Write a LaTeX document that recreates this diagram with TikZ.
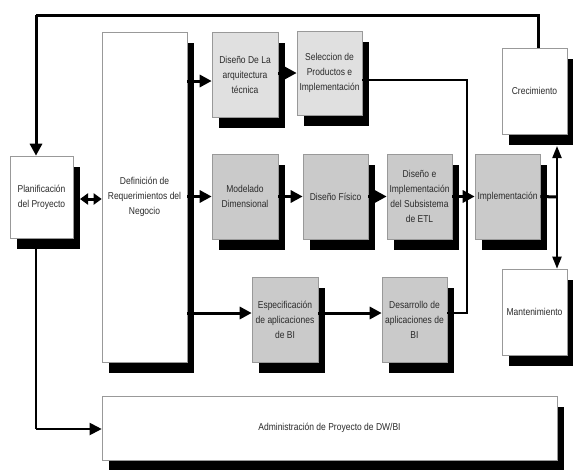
\documentclass[tikz,border=0pt]{standalone}
\usepackage{fontspec}
\setmainfont[FakeStretch=0.85]{Liberation Sans}
\usetikzlibrary{arrows.meta,calc,backgrounds}
\definecolor{lightbox}{HTML}{E0E0E0}
\definecolor{darkbox}{HTML}{CACACA}
\definecolor{txt}{HTML}{2A2A2A}
\begin{document}
\begin{tikzpicture}[x=1pt,y=-1pt,
  box/.style={draw=gray!80, line width=0.6pt, fill=white, align=center, inner sep=1pt,
    text=txt, font=\fontsize{10}{15}\selectfont},
  lbox/.style={box, fill=lightbox},
  dbox/.style={box, fill=darkbox},
  conn/.style={line width=3pt, -{Triangle[length=12pt,width=12pt]}},
  thinconn/.style={line width=2pt},
  loopline/.style={line width=3pt}
]
\useasboundingbox (0,0) rectangle (573,469);

% nodes
\node[box, minimum width=63pt, minimum height=82pt] (plan) at (41.5,197) {Planificación\\del Proyecto};
\node[box, minimum width=85pt, minimum height=330pt] (defn) at (144.5,197) {Definición de\\Requerimientos del\\Negocio};
\node[lbox, minimum width=66pt, minimum height=85pt] (arq) at (245,74.5) {Diseño De La\\arquitectura\\técnica};
\node[lbox, minimum width=65pt, minimum height=84pt] (sel) at (329.5,73) {Seleccion de\\Productos e\\Implementación};
\node[box, minimum width=65pt, minimum height=86pt] (crec) at (534.5,91) {Crecimiento};
\node[dbox, minimum width=66pt, minimum height=85pt] (mod) at (245,196.5) {Modelado\\Dimensional};
\node[dbox, minimum width=65pt, minimum height=85pt] (fis) at (335.5,196.5) {Diseño Físico};
\node[dbox, minimum width=65pt, minimum height=85pt] (etl) at (419.5,196.5) {Diseño e\\Implementación\\del Subsistema\\de ETL};
\node[dbox, minimum width=65pt, minimum height=85pt] (impl) at (507.5,196.5) {Implementación};
\node[box, minimum width=65pt, minimum height=86pt] (mant) at (534.5,312) {Mantenimiento};
\node[dbox, minimum width=66pt, minimum height=85pt] (esp) at (285,319.5) {Especificación\\de aplicaciones\\de BI};
\node[dbox, minimum width=65pt, minimum height=85pt] (des) at (414.5,319.5) {Desarrollo de\\aplicaciones de\\BI};
\node[box, minimum width=455pt, minimum height=64pt] (adm) at (329.5,428) {Administración de Proyecto de DW/BI};

% shadows
\begin{scope}[on background layer]
  \foreach \n in {plan,defn,arq,sel,crec,mod,fis,etl,impl,mant,esp,des,adm}
    \fill[black] ($(\n.south west)+(7,11)$) rectangle ($(\n.north east)+(7,11)$);
\end{scope}

% coordinates
\coordinate (loopTR) at (538,15);
\coordinate (loopTL) at (36,15);
\coordinate (mergeTop) at (467,80);
\coordinate (mergeBot) at (467,313);
\coordinate (mergeMid) at (467,197);
\coordinate (split) at (557,197);
\coordinate (crecShadow) at (557,146);
\coordinate (planShadow) at (80,199);
\coordinate (planCorner) at (36,429);

% top loop back to planning
\draw[loopline] (crec.north -| loopTR) -- (loopTR) -- (loopTL);
\draw[conn] (loopTL) -- (plan.north -| loopTL);

% planning <-> definition
\draw[line width=3pt, {Triangle[length=8pt,width=11pt]}-{Triangle[length=8pt,width=11pt]}] (planShadow) -- (defn.west |- planShadow);

% planning -> administration
\draw[thinconn] ($(plan.south -| planCorner)+(0,11)$) -- (planCorner);
\draw[line width=2pt, -{Triangle[length=12pt,width=12pt]}] (planCorner) -- (adm.west |- planCorner);

% definition -> three branches
\draw[conn] (defn.east |- 0,81) -- (arq.west |- 0,81);
\draw[conn] (defn.east |- mod.west) -- (mod.west);
\draw[conn] (defn.east |- 0,313) -- (esp.west |- 0,313);

% first row
\draw[conn] (arq.east |- 0,73) -- (sel.west |- 0,73);

% middle row
\draw[conn] (mod.east) -- (fis.west);
\draw[conn] (fis.east) -- (etl.west);
\draw[conn] (etl.east) -- (impl.west);

% bottom row
\draw[conn] (esp.east |- 0,313) -- (des.west |- 0,313);

% merge lines into implementation
\draw[thinconn] (sel.east |- mergeTop) -- (mergeTop) -- (mergeMid);
\draw[thinconn] (des.east |- mergeBot) -- (mergeBot) -- (mergeMid);

% implementation -> growth / maintenance
\draw[loopline] (impl.east) -- (split);
\draw[line width=2pt, -{Triangle[length=12pt,width=9pt]}] (split) -- (crecShadow);
\draw[line width=2pt, -{Triangle[length=12pt,width=9pt]}] (split) -- (mant.north -| split);

\end{tikzpicture}
\end{document}
